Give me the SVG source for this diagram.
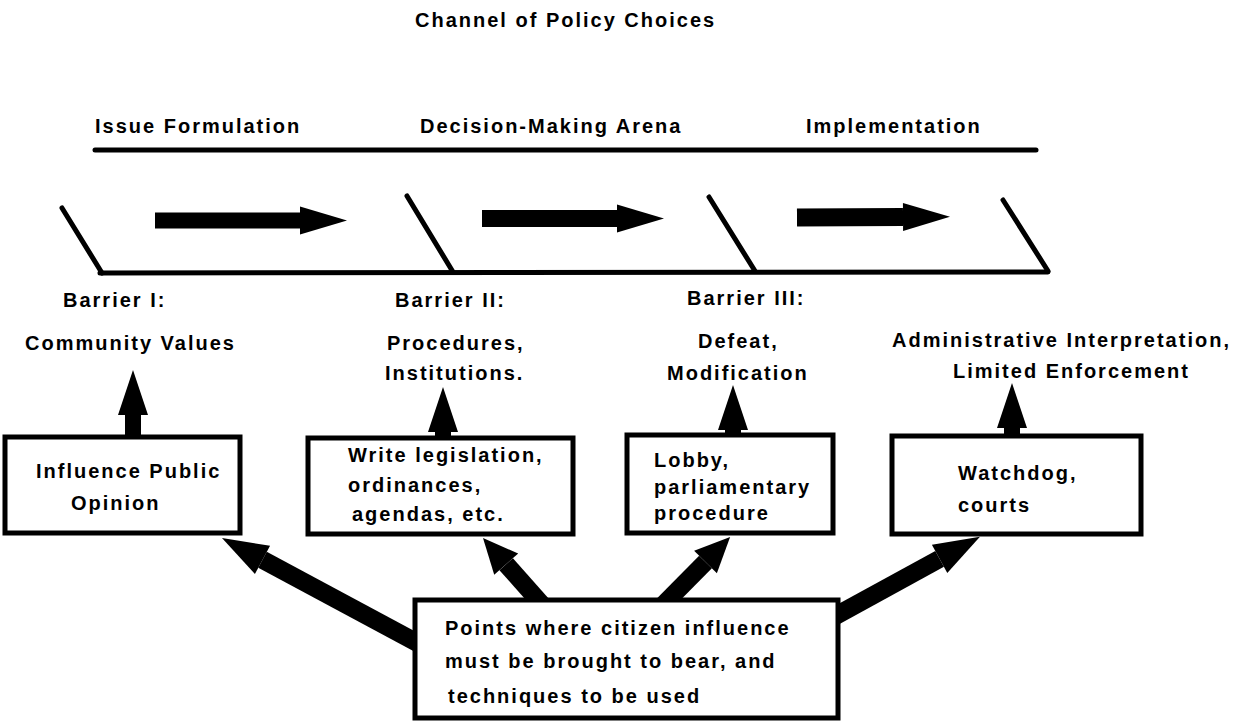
<svg xmlns="http://www.w3.org/2000/svg" width="1240" height="721" viewBox="0 0 1240 721">
<style>
text{font-family:"Liberation Sans",Arial,sans-serif;font-weight:bold;font-size:20px;letter-spacing:2px;fill:#000}
.ln{stroke:#000;stroke-width:5;stroke-linecap:round;fill:none}
.box{fill:#fff;stroke:#000;stroke-width:5}
.sh{stroke:#000;fill:none}
</style>
<defs>
<marker id="hH" markerUnits="userSpaceOnUse" viewBox="0 -16 48 32" markerWidth="48" markerHeight="32" refX="0" refY="0" orient="auto" overflow="visible"><path d="M0,-14 L47,0 L0,14 Z" fill="#000"/></marker>
<marker id="hV" markerUnits="userSpaceOnUse" viewBox="0 -16 46 32" markerWidth="46" markerHeight="32" refX="0" refY="0" orient="auto" overflow="visible"><path d="M0,-15 L45,0 L0,15 Z" fill="#000"/></marker>
<marker id="hD" markerUnits="userSpaceOnUse" viewBox="0 -17 47 34" markerWidth="47" markerHeight="34" refX="0" refY="0" orient="auto" overflow="visible"><path d="M0,-16 L46,0 L0,16 Z" fill="#000"/></marker>
<marker id="hS" markerUnits="userSpaceOnUse" viewBox="0 -17 36 34" markerWidth="36" markerHeight="34" refX="0" refY="0" orient="auto" overflow="visible"><path d="M0,-16 L35,0 L0,16 Z" fill="#000"/></marker>
</defs>
<rect width="1240" height="721" fill="#fff"/>

<g id="header">
<text x="415" y="27">Channel of Policy Choices</text>
<text x="95" y="133">Issue Formulation</text>
<text x="420" y="133">Decision-Making Arena</text>
<text x="806" y="133">Implementation</text>
<line class="ln" x1="95" y1="150" x2="1036" y2="150"/>
</g>

<g id="channel">
<line class="ln" x1="62" y1="208" x2="102" y2="273"/>
<line class="ln" x1="407" y1="196" x2="453" y2="272"/>
<line class="ln" x1="709" y1="197" x2="755" y2="271"/>
<line class="ln" x1="1003" y1="200" x2="1048" y2="271"/>
<line class="ln" x1="100" y1="273" x2="1048" y2="272"/>
</g>

<g id="barriers">
<text x="63" y="307">Barrier I:</text>
<text x="25" y="350">Community Values</text>
<text x="395" y="307">Barrier II:</text>
<text x="387" y="350">Procedures,</text>
<text x="385" y="380">Institutions.</text>
<text x="687" y="305">Barrier III:</text>
<text x="698" y="348">Defeat,</text>
<text x="667" y="380">Modification</text>
<text x="892" y="347">Administrative Interpretation,</text>
<text x="953" y="378">Limited Enforcement</text>
</g>

<g id="connectors">
<line class="sh" stroke-width="16" x1="155" y1="220.5" x2="300" y2="220.5" marker-end="url(#hH)"/>
<line class="sh" stroke-width="17" x1="482" y1="218.5" x2="617" y2="218.5" marker-end="url(#hH)"/>
<line class="sh" stroke-width="18" x1="797" y1="217.5" x2="903" y2="217" marker-end="url(#hH)"/>
<line class="sh" stroke-width="16" x1="133" y1="438" x2="133" y2="415" marker-end="url(#hV)"/>
<line class="sh" stroke-width="16" x1="443" y1="438" x2="443" y2="432" marker-end="url(#hV)"/>
<line class="sh" stroke-width="16" x1="733" y1="436" x2="733" y2="430" marker-end="url(#hV)"/>
<line class="sh" stroke-width="16" x1="1012" y1="437" x2="1012" y2="428" marker-end="url(#hV)"/>
<line class="sh" stroke-width="18" x1="425" y1="647" x2="262.5" y2="559.8" marker-end="url(#hD)"/>
<line class="sh" stroke-width="18" x1="545" y1="608" x2="506.2" y2="564.2" marker-end="url(#hS)"/>
<line class="sh" stroke-width="18" x1="660" y1="608" x2="705.5" y2="562" marker-end="url(#hS)"/>
<line class="sh" stroke-width="18" x1="828" y1="620" x2="939.6" y2="558.9" marker-end="url(#hD)"/>
</g>

<g id="box-public-opinion">
<rect class="box" x="5" y="437" width="235" height="96"/>
<text x="36" y="478">Influence Public</text>
<text x="71" y="510">Opinion</text>
</g>

<g id="box-legislation">
<rect class="box" x="308" y="438" width="265" height="96"/>
<text x="348" y="462">Write legislation,</text>
<text x="348" y="492">ordinances,</text>
<text x="352" y="521">agendas, etc.</text>
</g>

<g id="box-lobby">
<rect class="box" x="627" y="435" width="206" height="98"/>
<text x="654" y="467">Lobby,</text>
<text x="654" y="494">parliamentary</text>
<text x="654" y="520">procedure</text>
</g>

<g id="box-watchdog">
<rect class="box" x="892" y="436" width="249" height="98"/>
<text x="958" y="480">Watchdog,</text>
<text x="958" y="512">courts</text>
</g>

<g id="box-points">
<rect class="box" x="415" y="600" width="423" height="118"/>
<text x="445" y="635">Points where citizen influence</text>
<text x="445" y="668">must be brought to bear, and</text>
<text x="448" y="703">techniques to be used</text>
</g>
</svg>
